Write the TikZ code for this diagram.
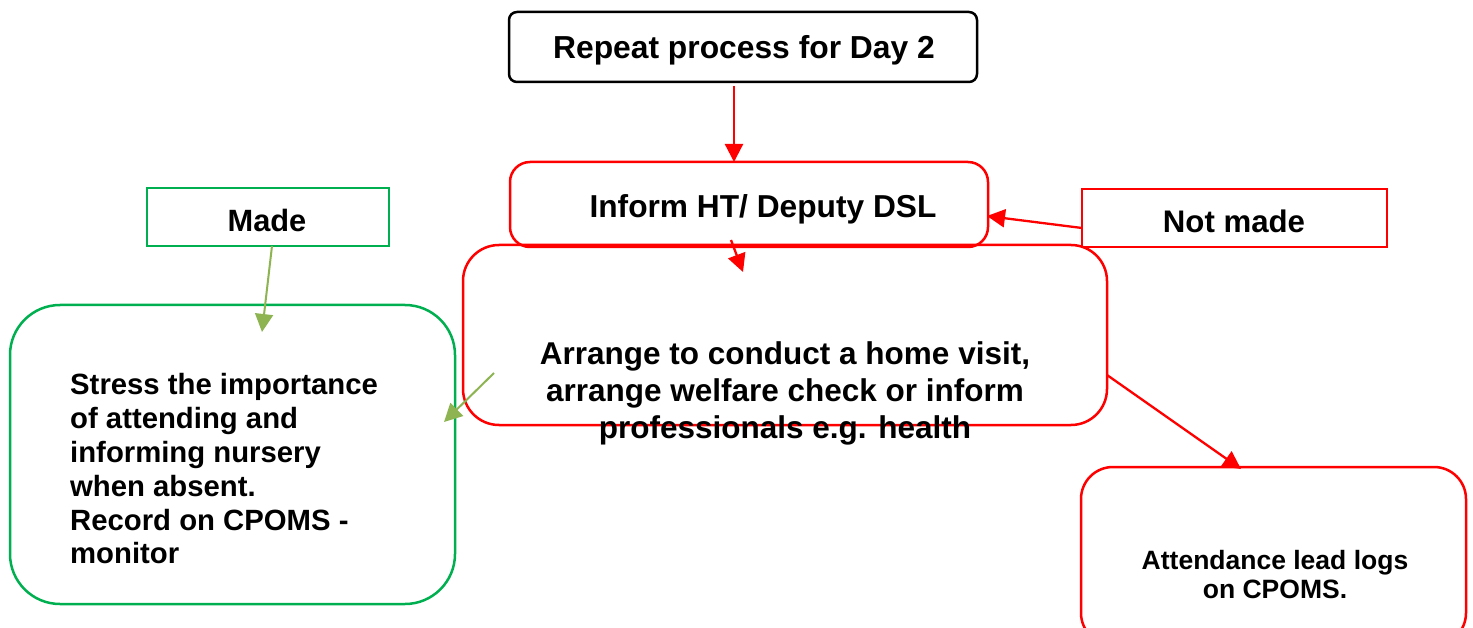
\documentclass[tikz,border=0pt]{standalone}
\usepackage{fontspec}
\setmainfont{Liberation Sans}
\usetikzlibrary{arrows.meta}
\definecolor{myred}{RGB}{255,0,0}
\definecolor{mygreen}{RGB}{0,176,80}
\definecolor{arrowgreen}{RGB}{141,180,80}
\begin{document}
\begin{tikzpicture}[x=1pt,y=-1pt,
  box/.style={draw,line width=2.5pt,inner sep=0pt,outer sep=0pt},
  txt/.style={inner sep=0pt,font=\bfseries},
  redarrow/.style={draw=myred,line width=2.3pt,-{Triangle[length=18pt,width=18pt]}},
  greenarrow/.style={draw=arrowgreen,line width=2pt,-{Triangle[length=18pt,width=18pt]}}]
\useasboundingbox (0,0) rectangle (1473,628);
\fill[white] (0,0) rectangle (1473,628);
% boxes
\node[box,draw=black,rounded corners=8pt,minimum width=468pt,minimum height=70pt] (top) at (743,47) {};
\node[box,draw=myred,rounded corners=36pt,minimum width=644pt,minimum height=180pt] (arrange) at (785,335) {};
\node[box,draw=myred,rounded corners=20pt,minimum width=478pt,minimum height=85pt] (inform) at (749,204.5) {};
\node[box,draw=mygreen,minimum width=242pt,minimum height=58pt] (made) at (268,217) {};
\node[box,draw=mygreen,rounded corners=50pt,minimum width=445pt,minimum height=299pt] (stress) at (232.5,454.5) {};
\node[box,draw=myred,minimum width=305pt,minimum height=58pt] (notmade) at (1234.5,218) {};
\node[box,draw=myred,rounded corners=32pt,minimum width=385pt,minimum height=178pt] (attend) at (1273.5,556) {};
% texts
\node[txt,font=\bfseries\fontsize{31.8}{37}\selectfont] (ttop) at (744,50) {Repeat process for Day 2};
\node[txt,font=\bfseries\fontsize{31.7}{37}\selectfont] (tinform) at (763,209) {Inform HT/ Deputy DSL};
\node[txt,font=\bfseries\fontsize{30.8}{37}\selectfont] (tmade) at (267,220) {Made};
\node[txt,font=\bfseries\fontsize{31.2}{37}\selectfont] (tnotmade) at (1234,221) {Not made};
\node[txt,align=center,font=\bfseries\fontsize{31.5}{37}\selectfont] (tarrange) at (785,393) {Arrange to conduct a home visit,\\arrange welfare check or inform\\professionals e.g. health};
\node[txt,align=left,anchor=west,font=\bfseries\fontsize{29.3}{33.8}\selectfont] (tstress) at (70,469) {Stress the importance\\of attending and\\informing nursery\\when absent.\\Record on CPOMS -\\monitor};
\node[txt,align=center,font=\bfseries\fontsize{26.5}{29}\selectfont] (tattend) at (1275,575) {Attendance lead logs\\on CPOMS.};
% connector end points
\coordinate (a1) at (734,86);
\coordinate (a2) at (734,162);
\coordinate (b1) at (731,240);
\coordinate (b2) at (743,272);
\coordinate (c1) at (1082,228);
\coordinate (c2) at (987,216);
\coordinate (d1) at (1107,375);
\coordinate (d2) at (1241,469);
\coordinate (e1) at (272,246);
\coordinate (e2) at (262,332);
\coordinate (f1) at (494,373);
\coordinate (f2) at (444,422);
% connectors
\draw[redarrow] (a1) -- (a2);
\draw[redarrow] (b1) -- (b2);
\draw[redarrow] (c1) -- (c2);
\draw[redarrow] (d1) -- (d2);
\draw[greenarrow] (e1) -- (e2);
\draw[greenarrow] (f1) -- (f2);
\end{tikzpicture}
\end{document}
